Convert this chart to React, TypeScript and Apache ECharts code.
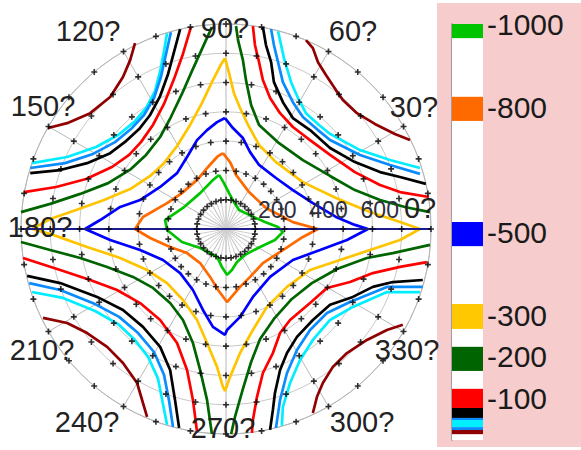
import React, { useEffect, useRef } from 'react';
import * as echarts from 'echarts';

// ---------------- data ----------------
const angleTickLabels = ['0?', '30?', '60?', '90?', '120?', '150?', '180?', '210?', '240?', '270?', '300?', '330?'];
const radiusTickLabels = [200, 400, 600];
const meshRingRadii = [114.29, 228.57, 342.86, 457.14, 571.43, 685.71, 800];
const meshAngles = [0, 10, 20, 30, 40, 50, 60, 70, 80, 90, 100, 110, 120, 130, 140, 150, 160, 170,
  180, 190, 200, 210, 220, 230, 240, 250, 260, 270, 280, 290, 300, 310, 320, 330, 340, 350];

const legendTickLabels = [-1000, -800, -500, -300, -200, -100];
const legendBlockColors = ['#00c400', '#ff6a00', '#0000ff', '#ffc800', '#006400', '#ff0000', '#000000', '#0a8cff', '#00eeff', '#0a8cff', '#900000'];
const legendBlockFrom = [-1000, -825, -524, -327, -224, -123, -77, -53, -48, -31, -24];
const legendBlockTo = [-966, -767, -466, -267, -166, -77, -53, -48, -31, -24, -14];

// contour level -1000 (closed)
const level1000 = [[-27, 211], [-8, 179], [12, 140], [31, 105], [51, 74], [90, 55], [152, 27], [203, 8], [222, -12],
  [191, -43], [133, -70], [74, -101], [43, -129], [23, -160], [4, -179], [-16, -148], [-35, -109], [-101, -74],
  [-172, -51], [-230, -4], [-238, 35], [-168, 82], [-101, 140], [-51, 191]];
// contour level -800 (closed)
const level800 = [[-12, 296], [16, 261], [39, 211], [90, 144], [156, 82], [261, 27], [359, 0], [300, -31], [222, -82],
  [144, -133], [94, -187], [55, -226], [4, -285], [-31, -238], [-62, -187], [-101, -133], [-152, -94], [-218, -70],
  [-296, -35], [-355, 0], [-324, 47], [-230, 101], [-172, 140], [-113, 191], [-70, 242], [-35, 281]];
// contour level -500 (closed)
const level500 = [[-4, 433], [27, 394], [66, 355], [94, 300], [129, 250], [195, 199], [261, 152], [339, 101], [429, 47],
  [503, 16], [554, 0], [472, -43], [367, -82], [261, -121], [172, -187], [105, -265], [55, -343], [4, -394], [-4, -413],
  [-51, -382], [-90, -316], [-129, -238], [-179, -172], [-246, -121], [-335, -82], [-452, -43], [-550, 0],
  [-491, 35], [-413, 86], [-335, 113], [-257, 164], [-191, 218], [-152, 281], [-113, 347], [-74, 386], [-35, 417]];
// contour level -300 (closed)
const level300 = [[-4, 667], [12, 608], [31, 530], [55, 472], [86, 406], [129, 328], [195, 261], [300, 183], [429, 121],
  [562, 66], [679, 27], [757, 0], [679, -43], [562, -82], [445, -121], [328, -160], [238, -226], [160, -304], [105, -394],
  [55, -484], [16, -577], [-4, -632], [-12, -616], [-35, -538], [-74, -445], [-113, -355], [-168, -277], [-230, -211],
  [-308, -160], [-413, -113], [-542, -70], [-675, -23], [-757, 0], [-686, 39], [-585, 74], [-476, 113], [-374, 156],
  [-296, 207], [-242, 257], [-191, 324], [-140, 406], [-94, 491], [-55, 573], [-23, 636]];
// contour level -200 (four open pieces)
const level200 = [
  [[39, 792], [47, 737], [66, 659], [78, 581], [98, 484], [129, 406], [207, 335], [300, 269], [406, 207], [503, 152], [601, 113], [698, 86], [796, 66]],
  [[796, -62], [651, -94], [550, -113], [433, -156], [335, -211], [257, -273], [187, -351], [133, -429], [98, -519], [66, -624], [35, -733], [20, -800]],
  [[-55, -800], [-74, -667], [-101, -550], [-129, -445], [-168, -355], [-218, -289], [-285, -230], [-363, -187], [-464, -148], [-569, -113], [-686, -82], [-800, -51]],
  [[-800, 66], [-686, 98], [-569, 137], [-460, 179], [-371, 234], [-312, 289], [-257, 359], [-215, 437], [-172, 527], [-133, 616], [-94, 702], [-55, 788]],
];
// contour level -100
const level100 = [
  [[105, 792], [113, 718], [129, 651], [144, 581], [172, 511], [211, 452], [261, 398], [328, 347], [406, 289], [503, 222], [601, 172], [679, 144], [792, 125]],
  [[784, -129], [679, -148], [573, -172], [484, -207], [394, -230], [328, -289], [250, -355], [211, -406], [183, -484], [144, -562], [121, -655], [105, -745], [101, -796]],
  [[-792, -113], [-647, -160], [-530, -199], [-425, -238], [-335, -289], [-257, -355], [-191, -445], [-152, -550], [-129, -667], [-113, -792]],
  [[-788, 144], [-663, 164], [-546, 195], [-445, 242], [-378, 289], [-332, 339], [-285, 406], [-242, 488], [-203, 585], [-168, 683], [-137, 788]],
];
// contour level about -60 (black)
const level60 = [
  [[144, 788], [156, 718], [176, 651], [187, 573], [222, 495], [261, 433], [328, 386], [406, 316], [503, 261], [601, 222], [679, 203], [780, 176]],
  [[768, -199], [651, -207], [573, -226], [495, -265], [406, -296], [339, -355], [277, -421], [238, -484], [211, -550], [191, -640], [183, -706], [172, -784]],
  [[-776, -183], [-647, -211], [-503, -265], [-402, -316], [-324, -382], [-257, -460], [-218, -550], [-199, -667], [-183, -776]],
  [[-764, 218], [-647, 230], [-542, 257], [-452, 296], [-390, 343], [-339, 390], [-296, 445], [-257, 519], [-226, 605], [-203, 690], [-179, 780]],
];
// contour level about -45 (dodger blue)
const level45 = [
  [[176, 780], [187, 718], [203, 651], [222, 573], [261, 495], [300, 437], [359, 386], [406, 347], [523, 289], [640, 250], [757, 215]],
  [[768, -226], [628, -226], [484, -285], [394, -328], [328, -394], [277, -472], [238, -562], [211, -667], [195, -776]],
  [[-768, -211], [-647, -238], [-511, -293], [-417, -343], [-343, -406], [-281, -480], [-242, -569], [-222, -671], [-207, -772]],
  [[-764, 238], [-628, 257], [-519, 293], [-433, 339], [-371, 390], [-320, 445], [-281, 511], [-254, 593], [-234, 683], [-215, 768]],
];
// contour level about -35 (cyan)
const level35 = [
  [[203, 772], [215, 718], [226, 667], [254, 573], [281, 511], [312, 452], [363, 406], [406, 371], [523, 308], [640, 269], [757, 238]],
  [[757, -246], [628, -246], [495, -304], [406, -355], [339, -433], [289, -511], [250, -601], [222, -694], [218, -768]],
  [[-757, -246], [-636, -269], [-511, -320], [-421, -371], [-359, -429], [-304, -499], [-265, -585], [-246, -683], [-230, -764]],
  [[-757, 257], [-620, 281], [-507, 320], [-421, 367], [-359, 417], [-312, 472], [-277, 538], [-257, 616], [-242, 694], [-230, 764]],
];
// contour level about -20 (dark red)
const level20 = [
  [[312, 737], [339, 706], [359, 651], [390, 601], [429, 542], [456, 503], [511, 452], [581, 410], [659, 371], [718, 347]],
  [[690, -374], [628, -394], [550, -433], [472, -484], [417, -538], [378, -601], [355, -655], [339, -718]],
  [[-714, -347], [-620, -367], [-542, -406], [-464, -460], [-402, -523], [-347, -601], [-324, -679], [-308, -733]],
  [[-694, 394], [-620, 413], [-530, 452], [-452, 515], [-402, 593], [-374, 659], [-355, 725]],
];
const zeroLine = [[-800, 0], [800, 0]];

// ---------------- layout ----------------
const CX = 226, CY = 229, R = 205;
const angleLabelXY = [[420, 208], [414, 107], [353, 31], [225, 28], [88, 31], [43, 106], [40, 227], [42, 350], [87, 422], [223, 428], [362, 422], [407, 350]];
const FONT = '"Liberation Sans", Arial, Helvetica, sans-serif';

export default function App() {
  const ref = useRef<HTMLDivElement>(null);
  useEffect(() => {
    document.body.style.margin = '0';
    const chart = echarts.init(ref.current!, null, { renderer: 'svg' });

    const series: any[] = [];
    const addLine = (data: number[][], color: string, width = 2.7, z = 3) => {
      series.push({
        type: 'line', xAxisIndex: 0, yAxisIndex: 0, data, showSymbol: false, symbol: 'none',
        lineStyle: { color, width }, z, silent: true,
      });
    };
    const closed = (p: number[][]) => [...p, p[0]];
    level20.forEach(p => addLine(p, '#900000'));
    level35.forEach(p => addLine(p, '#00eeff'));
    level45.forEach(p => addLine(p, '#0a8cff'));
    level60.forEach(p => addLine(p, '#000000'));
    level100.forEach(p => addLine(p, '#ff0000'));
    level200.forEach(p => addLine(p, '#006400'));
    addLine(closed(level300), '#ffc400');
    addLine(closed(level500), '#0000ff');
    addLine(closed(level800), '#ff6a00');
    addLine(closed(level1000), '#00c400');
    addLine(zeroLine, '#1c1c8c', 2.2, 4);

    const markers: number[][] = [];
    meshRingRadii.forEach(r => meshAngles.forEach(a => markers.push([r, a])));
    series.push({
      type: 'scatter', coordinateSystem: 'polar', polarIndex: 0, data: markers,
      symbol: 'path://M0,2.2H6V3.8H0Z M2.2,0H3.8V6H2.2Z', symbolSize: 6,
      itemStyle: { color: '#000' }, z: 5, silent: true,
    });

    series.push({
      type: 'line', xAxisIndex: 1, yAxisIndex: 1, data: [[0.5, -500]], showSymbol: false, symbol: 'none',
      lineStyle: { opacity: 0 }, silent: true,
      markArea: {
        silent: true,
        data: legendBlockColors.map((c, i) => [
          { yAxis: legendBlockFrom[i], itemStyle: { color: c } },
          { yAxis: legendBlockTo[i] },
        ]),
      },
    });

    chart.setOption({
      animation: false,
      textStyle: { fontFamily: FONT },
      polar: [
        { center: [CX, CY], radius: R },
        { center: [CX, CY], radius: R },
        { center: [CX, CY], radius: R / 7 },
      ],
      angleAxis: [
        {
          polarIndex: 0, type: 'value', min: 0, max: 360, interval: 30, startAngle: 0, clockwise: false,
          axisLine: { show: true, lineStyle: { color: '#b4b4b4', width: 1 } },
          axisTick: { show: false }, axisLabel: { show: false },
          splitLine: { show: true, lineStyle: { color: '#b8b8b8', width: 1 } },
        },
        { polarIndex: 1, type: 'value', min: 0, max: 360, startAngle: 0, clockwise: false, show: false },
        {
          polarIndex: 2, type: 'value', min: 0, max: 360, interval: 10, startAngle: 0, clockwise: false,
          axisLine: { show: false }, axisTick: { show: false }, axisLabel: { show: false },
          splitLine: { show: true, lineStyle: { color: '#cfcfcf', width: 1 } },
        },
      ],
      radiusAxis: [
        {
          polarIndex: 0, type: 'value', min: 0, max: 800, interval: 800 / 7,
          axisLine: { show: false }, axisTick: { show: false }, axisLabel: { show: false },
          splitLine: { show: true, lineStyle: { color: '#c8c8c8', width: 1 } },
        },
        {
          polarIndex: 1, type: 'value', min: 0, max: 800, interval: 200, z: 8,
          axisLine: { show: false }, axisTick: { show: false }, splitLine: { show: false },
          axisLabel: {
            show: true, margin: 8, fontSize: 23, color: '#2e2e3e', fontFamily: FONT,
            formatter: (v: number) => (radiusTickLabels.includes(Math.round(v)) ? String(Math.round(v)) : ''),
          },
        },
        { polarIndex: 2, type: 'value', min: 0, max: 1, show: false },
      ],
      grid: [
        { left: CX - R, top: CY - R, width: 2 * R, height: 2 * R, show: false },
        { left: 452, top: 24, width: 31, height: 416, show: true, backgroundColor: '#ffffff', borderWidth: 0, z: 1 },
      ],
      xAxis: [
        { gridIndex: 0, type: 'value', min: -800, max: 800, show: false },
        { gridIndex: 1, type: 'value', min: 0, max: 1, show: false },
      ],
      yAxis: [
        { gridIndex: 0, type: 'value', min: -800, max: 800, show: false },
        {
          gridIndex: 1, type: 'value', min: -1000, max: 0, interval: 100, inverse: true, position: 'right',
          axisLine: { show: false }, axisTick: { show: false }, splitLine: { show: false },
          axisLabel: {
            show: true, margin: 4, fontSize: 30, color: '#1a1a1a', fontFamily: FONT, showMinLabel: true,
            formatter: (v: number) => (legendTickLabels.includes(Math.round(v)) ? String(Math.round(v)) : ''),
          },
        },
        {
          gridIndex: 1, type: 'value', min: -1000, max: 0, inverse: true, position: 'left',
          axisLine: { show: true, lineStyle: { color: '#8a8a8a', width: 1.5 } },
          axisTick: { show: false }, axisLabel: { show: false }, splitLine: { show: false },
        },
      ],
      graphic: [
        { type: 'rect', z: -10, shape: { x: 437, y: 3, width: 144, height: 444 }, style: { fill: '#f6cccc' }, silent: true },
        ...angleTickLabels.map((t, i) => ({
          type: 'text', z: 20, x: angleLabelXY[i][0], y: angleLabelXY[i][1], silent: true,
          style: {
            text: t, fontSize: 29, fontFamily: FONT, fill: '#222222',
            align: 'center', verticalAlign: 'middle', textAlign: 'center', textVerticalAlign: 'middle',
          },
        })),
      ],
      series,
    });
    return () => chart.dispose();
  }, []);
  return <div ref={ref} style={{ width: 581, height: 450 }} />;
}
